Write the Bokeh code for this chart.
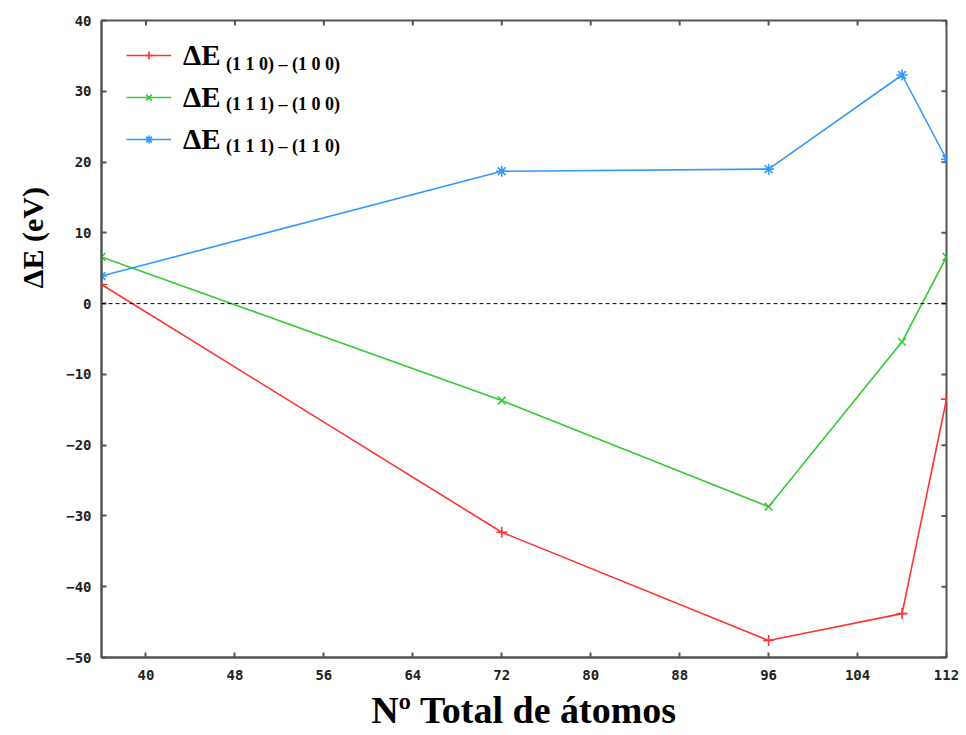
from bokeh.plotting import figure
from bokeh.models import (FixedTicker, Span, Legend, LegendItem, Label, Range1d)
from bokeh.embed import file_html
from bokeh.resources import INLINE

# ---- data ----
atoms = [36, 72, 96, 108, 112]
de_110_100 = [2.7, -32.3, -47.6, -43.8, -13.5]
de_111_100 = [6.6, -13.7, -28.7, -5.4, 6.6]
de_111_110 = [3.9, 18.7, 19.0, 32.3, 20.4]

x_ticks = [40, 48, 56, 64, 72, 80, 88, 96, 104, 112]
y_ticks = [-50, -40, -30, -20, -10, 0, 10, 20, 30, 40]

series_names = ["(1 1 0) \u2013 (1 0 0)", "(1 1 1) \u2013 (1 0 0)", "(1 1 1) \u2013 (1 1 0)"]
colors = ["#ff3333", "#33cc33", "#3399ff"]
markers = ["cross", "x", "asterisk"]

AXIS_COLOR = "#555555"
XMIN, XMAX, YMIN, YMAX = 36, 112, -50, 40
FW, FH = 845, 637

p = figure(frame_width=FW, frame_height=FH,
           min_border_left=101, min_border_right=20, min_border_top=20, min_border_bottom=77,
           x_range=Range1d(XMIN, XMAX), y_range=Range1d(YMIN, YMAX),
           output_backend="svg", toolbar_location=None,
           background_fill_color="white", border_fill_color="white")
p.outline_line_color = AXIS_COLOR
p.outline_line_width = 2
p.grid.visible = False

for ax in (p.xaxis[0], p.yaxis[0]):
    ax.axis_line_color = AXIS_COLOR
    ax.axis_line_width = 2
    ax.major_tick_line_color = AXIS_COLOR
    ax.major_tick_line_width = 2
    ax.major_tick_in = 5
    ax.major_tick_out = 0
    ax.minor_tick_line_color = None
    ax.major_label_text_font = "DejaVu Sans Mono"
    ax.major_label_text_font_style = "bold"
    ax.major_label_text_font_size = "14px"
    ax.major_label_text_color = "#222222"
    ax.axis_label_text_font = "Liberation Serif"
    ax.axis_label_text_font_style = "bold"
    ax.axis_label_text_color = "black"

p.xaxis[0].ticker = FixedTicker(ticks=x_ticks)
p.yaxis[0].ticker = FixedTicker(ticks=y_ticks)
p.xaxis[0].axis_label = "N\u00ba Total de \u00e1tomos"
p.xaxis[0].axis_label_text_font_size = "38px"
p.xaxis[0].major_label_standoff = 12
p.xaxis[0].axis_label_standoff = 6

# y title: leading no-break spaces push it above the axis centre, as in the reference
p.yaxis[0].axis_label = "\u00a0" * 27 + "\u0394E (eV)"
p.yaxis[0].axis_label_text_font_size = "30px"
p.yaxis[0].major_label_standoff = 10
p.yaxis[0].axis_label_standoff = 14

# mirror ticks on top and right borders (inward)
tly = 5 * (YMAX - YMIN) / FH
tlx = 5 * (XMAX - XMIN) / FW
p.segment(x0=x_ticks, y0=[YMAX] * len(x_ticks), x1=x_ticks, y1=[YMAX - tly] * len(x_ticks),
          line_color=AXIS_COLOR, line_width=2)
p.segment(x0=[XMAX] * len(y_ticks), y0=y_ticks, x1=[XMAX - tlx] * len(y_ticks), y1=y_ticks,
          line_color=AXIS_COLOR, line_width=2)

# zero line
p.add_layout(Span(location=0, dimension="width", line_color="black",
                  line_dash="4 3", line_width=1))

series = [de_110_100, de_111_100, de_111_110]
items = []
for ys, c, m in zip(series, colors, markers):
    l = p.line(atoms, ys, line_color=c, line_width=1.6)
    s = p.scatter(atoms, ys, marker=m, size=11, line_color=c, line_width=1.6)
    items.append(LegendItem(label="\u0394E", renderers=[l, s]))

legend = Legend(items=items, location=(25, 501),
                margin=0, padding=0, spacing=8,
                glyph_width=45, glyph_height=20, label_standoff=12,
                label_text_font="Liberation Serif", label_text_font_style="bold",
                label_text_font_size="29px", label_text_color="black", label_height=34,
                background_fill_alpha=0, border_line_color=None)
p.add_layout(legend)

# subscripts of legend entries
sub_y = [33.9, 28.2, 22.2]
for name, yv in zip(series_names, sub_y):
    p.add_layout(Label(x=47.2, y=yv, text=name, text_font="Liberation Serif",
                       text_font_style="bold", text_font_size="18px",
                       text_baseline="middle", text_align="left", text_color="black"))

open("out.html", "w").write(file_html(p, INLINE))
